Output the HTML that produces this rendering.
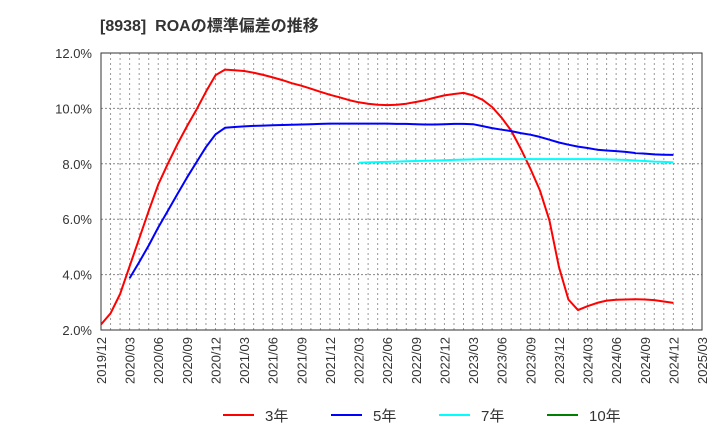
<!DOCTYPE html>
<html><head><meta charset="utf-8"><style>
body{margin:0;background:#fff;font-family:"Liberation Sans","Noto Sans CJK JP",sans-serif}
svg text{font-family:"Liberation Sans","Noto Sans CJK JP",sans-serif}
</style></head><body>
<svg id="c" width="720" height="440" xmlns="http://www.w3.org/2000/svg">
<text x="100" y="31" font-size="16" font-weight="bold" fill="#333" xml:space="preserve">[8938]  ROAの標準偏差の推移</text>
<g id="grid"></g><g id="axes"></g><g id="series"></g><g id="legend"></g>
</svg>
<script>
const xTickLabels=["2019/12","2020/03","2020/06","2020/09","2020/12","2021/03","2021/06","2021/09","2021/12","2022/03","2022/06","2022/09","2022/12","2023/03","2023/06","2023/09","2023/12","2024/03","2024/06","2024/09","2024/12","2025/03"];
const yTicks=[2,4,6,8,10,12];
const yTickLabels=["2.0%","4.0%","6.0%","8.0%","10.0%","12.0%"];
const seriesNames=["3年","5年","7年","10年"];
const seriesColors=["#ff0000","#0000ff","#00ffff","#008000"];
// monthly values, index 0 = 2019/12
const start3=0;
const values3=[2.2,2.6,3.3,4.3,5.3,6.3,7.25,8.0,8.7,9.35,9.95,10.6,11.2,11.4,11.38,11.35,11.29,11.21,11.12,11.02,10.91,10.82,10.71,10.6,10.49,10.4,10.3,10.22,10.17,10.13,10.12,10.13,10.17,10.23,10.3,10.39,10.47,10.52,10.56,10.47,10.31,10.05,9.66,9.2,8.55,7.83,7.05,5.96,4.28,3.1,2.72,2.86,2.98,3.06,3.09,3.1,3.11,3.1,3.08,3.03,2.98];
const start5=3;
const values5=[3.87,4.45,5.05,5.7,6.3,6.9,7.5,8.05,8.6,9.06,9.3,9.33,9.35,9.37,9.38,9.39,9.4,9.41,9.42,9.43,9.44,9.45,9.45,9.45,9.45,9.45,9.45,9.45,9.44,9.44,9.43,9.42,9.42,9.43,9.44,9.44,9.43,9.36,9.29,9.23,9.18,9.11,9.05,8.97,8.87,8.77,8.69,8.62,8.57,8.51,8.48,8.46,8.43,8.39,8.37,8.34,8.33,8.32];
const start7=27;
const values7=[8.04,8.05,8.06,8.07,8.08,8.09,8.1,8.11,8.12,8.13,8.14,8.15,8.16,8.17,8.17,8.17,8.17,8.17,8.17,8.17,8.17,8.17,8.17,8.17,8.17,8.17,8.16,8.15,8.14,8.12,8.1,8.08,8.07,8.05];
const start10=0;
const values10=[];

const L=101,R=702,T=53,B=330,NM=63;
const X=m=>L+m*(R-L)/NM;
const Y=v=>B-(v-2)*(B-T)/10;
const NS="http://www.w3.org/2000/svg";
function mk(tag,attrs,parent){const e=document.createElementNS(NS,tag);for(const k in attrs)e.setAttribute(k,attrs[k]);parent.appendChild(e);return e;}
const grid=document.getElementById('grid'),axes=document.getElementById('axes'),series=document.getElementById('series'),legend=document.getElementById('legend');
for(let m=1;m<NM;m++){const l=mk('line',{x1:X(m),x2:X(m),y1:T,y2:B,stroke:'#999','stroke-dasharray':'2,3','stroke-width':1},grid);

}
yTicks.forEach((v,i)=>{
 if(v>2&&v<12){const g=mk('line',{x1:L,x2:R,y1:Y(v),y2:Y(v),stroke:'#888','stroke-dasharray':'2,2','stroke-width':1},grid);
 
 }
 const t=mk('text',{x:92,y:Y(v)+5,'text-anchor':'end','font-size':13,fill:'#333'},axes);t.textContent=yTickLabels[i];
 
 
});
const fr=mk('rect',{x:L,y:T,width:R-L,height:B-T,fill:'none',stroke:'#333','stroke-width':1},axes);


xTickLabels.forEach((s,i)=>{const x=X(i*3);
 const t=mk('text',{x:0,y:0,transform:`translate(${x+5},337) rotate(-90)`,'text-anchor':'end','font-size':13,fill:'#333'},axes);t.textContent=s;
 
 
});
function line(vals,st,color,name){if(!vals.length)return;
 const p=mk('polyline',{points:vals.map((v,i)=>X(st+i).toFixed(1)+','+Y(v).toFixed(1)).join(' '),fill:'none',stroke:color,'stroke-width':2,'stroke-linejoin':'round'},series);
 
 }
line(values3,start3,seriesColors[0],'series-3y');
line(values5,start5,seriesColors[1],'series-5y');
line(values7,start7,seriesColors[2],'series-7y');
line(values10,start10,seriesColors[3],'series-10y');
const lx=[223,331,439,547];
seriesNames.forEach((n,i)=>{
 const g=mk('g',{},legend);
 
 
 mk('line',{x1:lx[i],x2:lx[i]+31,y1:415,y2:415,stroke:seriesColors[i],'stroke-width':2},g);
 const t=mk('text',{x:lx[i]+42,y:421,'font-size':15,fill:'#333'},g);t.textContent=n;
});
</script>
</body></html>
